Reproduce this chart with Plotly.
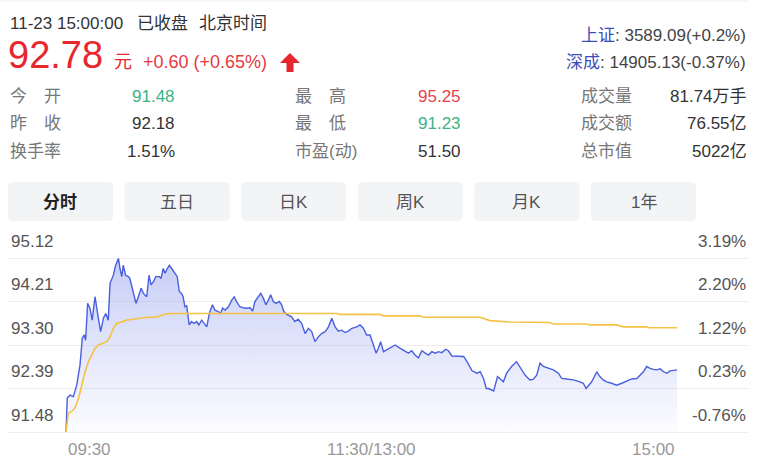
import plotly.graph_objects as go

W, H = 764, 460

# ---------------- data ----------------
price_min = [0, 0.5, 1.6, 2.9, 4.2, 5.5, 6.4, 7.2, 7.7, 8.5, 9.4, 10.3, 11.4, 12.0, 12.7, 13.6, 14.7, 15.6, 16.6,
             17.3, 18.6, 19.5, 20.6, 21.2, 21.9, 22.5, 23.4, 24.5, 25.1, 26.2, 27.5, 28.4, 29.5, 30.4, 31.7, 32.6,
             33.4, 34.3, 35.3, 36.7, 37.3, 38.2, 38.9, 39.8, 40.6, 41.5, 42.8, 43.7, 44.5, 45.4, 46.0, 46.7, 47.4,
             48.4, 49.3, 50.3, 51.3, 52.2, 53.3, 54.2, 55.3, 56.3, 57.5, 58.5, 59.8, 60.7, 61.5, 62.5, 63.8, 65.1,
             66.1, 67.0, 68.3, 69.6, 70.9, 72.3, 73.3, 74.2, 75.5, 76.5, 77.5, 78.5, 79.5, 80.4, 81.4, 82.5, 83.8,
             84.7, 85.6, 86.7, 88.6, 89.9, 91.2, 92.6, 93.9, 95.2, 96.5, 97.8, 99.1, 100.4, 101.8, 103.1, 104.4,
             105.7, 107.0, 108.3, 109.6, 110.9, 112.3, 114.2, 115.5, 116.8, 118.1, 119.4, 120.5, 121.8, 122.7,
             123.6, 124.7, 126.0, 127.3, 129.3, 131.3, 133.2, 134.5, 135.8, 137.1, 138.4, 139.8, 141.1, 142.4,
             143.7, 145.0, 146.3, 147.6, 149.2, 150.2, 151.6, 153.5, 156.2, 157.5, 159.5, 161.4, 162.7, 164.0,
             165.1, 166.0, 168.0, 169.5, 170.5, 171.8, 173.1, 175.0, 177.0, 178.3, 180.3, 182.2, 183.5, 184.9,
             186.2, 187.5, 189.4, 191.4, 193.4, 194.7, 196.6, 199.3, 201.9, 203.2, 204.3, 205.2, 206.5, 208.5,
             209.7, 211.0, 212.4, 214.3, 216.3, 218.3, 219.6, 220.9, 222.2, 224.2, 225.5, 226.8, 228.1, 229.4,
             230.8, 232.1, 233.4, 234.7, 236.0, 237.3, 240.0]
price_val = [91.48, 92.19, 92.25, 92.22, 92.46, 92.88, 93.44, 93.51, 93.40, 94.17, 94.07, 93.82, 94.31, 94.14,
             93.86, 93.58, 93.86, 93.96, 93.82, 94.59, 94.76, 94.97, 95.11, 94.90, 94.73, 94.97, 94.76, 94.73,
             94.69, 94.45, 94.17, 94.31, 94.49, 94.38, 94.31, 94.76, 94.56, 94.62, 94.73, 94.73, 94.69, 94.90,
             94.80, 94.90, 94.97, 94.90, 94.80, 94.73, 94.42, 94.38, 94.31, 94.10, 94.12, 93.72, 93.79, 93.75,
             93.79, 93.72, 93.82, 93.75, 93.68, 93.96, 94.14, 94.03, 94.00, 93.96, 94.07, 94.03, 94.10, 94.24,
             94.31, 94.21, 94.10, 94.08, 94.07, 94.08, 94.01, 94.21, 94.31, 94.38, 94.28, 94.14, 94.24, 94.35,
             94.21, 94.17, 94.21, 94.14, 94.00, 93.94, 93.89, 93.79, 93.84, 93.75, 93.54, 93.65, 93.58, 93.37,
             93.47, 93.54, 93.58, 93.68, 93.86, 93.68, 93.59, 93.61, 93.56, 93.59, 93.65, 93.68, 93.72, 93.65,
             93.51, 93.51, 93.34, 93.13, 93.23, 93.37, 93.16, 93.20, 93.25, 93.30, 93.23, 93.18, 93.13, 93.18,
             93.09, 93.03, 93.18, 93.13, 93.09, 93.16, 93.13, 93.16, 93.14, 93.21, 93.18, 93.07, 93.06, 93.06,
             92.95, 92.76, 92.71, 92.74, 92.60, 92.39, 92.39, 92.34, 92.64, 92.60, 92.53, 92.71, 92.85, 92.95,
             92.85, 92.67, 92.57, 92.58, 92.67, 92.92, 92.85, 92.81, 92.78, 92.71, 92.60, 92.59, 92.57, 92.53,
             92.50, 92.39, 92.45, 92.53, 92.74, 92.64, 92.57, 92.53, 92.50, 92.46, 92.50, 92.53, 92.55, 92.59,
             92.60, 92.67, 92.74, 92.85, 92.81, 92.79, 92.78, 92.80, 92.74, 92.71, 92.76, 92.78]

avg_min = [0, 0.9, 2.2, 3.5, 4.9, 6.2, 7.5, 8.8, 10.1, 11.4, 12.7, 14.7, 16.0, 17.3, 18.6, 19.9, 21.9, 23.8, 26.4,
           30.4, 36.3, 38.2, 40.9, 106.3, 107.6, 123.3, 124.6, 139.0, 140.4, 162.6, 166.5, 174.4, 190.0, 191.4,
           204.5, 205.8, 216.3, 218.9, 228.1, 228.8, 240.0]
avg_val = [91.48, 91.87, 91.91, 91.98, 92.18, 92.46, 92.74, 92.95, 93.09, 93.23, 93.30, 93.34, 93.37, 93.47, 93.65,
           93.75, 93.79, 93.82, 93.84, 93.87, 93.89, 93.94, 93.96, 93.96, 93.94, 93.94, 93.91, 93.91, 93.88, 93.88,
           93.81, 93.78, 93.77, 93.74, 93.74, 93.72, 93.72, 93.68, 93.68, 93.66, 93.66]

y_ticks = [91.48, 92.39, 93.30, 94.21, 95.12]
prev_close = 92.18
x_tick_pos = [0, 120, 240]
x_tick_text = ["09:30", "11:30/13:00", "15:00"]
x_tick_anchor = ["left", "center", "right"]

tabs = ["分时", "五日", "日K", "周K", "月K", "1年"]
stat_labels = [["今　开", "昨　收", "换手率"], ["最　高", "最　低", "市盈(动)"], ["成交量", "成交额", "总市值"]]
stat_values = [["91.48", "92.18", "1.51%"], ["95.25", "91.23", "51.50"], ["81.74万手", "76.55亿", "5022亿"]]
stat_colors = [["#3cb383", "#333333", "#333333"], ["#e8414d", "#3cb383", "#333333"], ["#333333", "#333333", "#333333"]]

# ---------------- layout helpers ----------------
FONT = "Liberation Sans, Arial, Noto Sans CJK SC, sans-serif"


def fx(px):
    return px / W


def fy(py):
    return 1 - py / H


PLOT_L, PLOT_R, PLOT_T, PLOT_B = 7, 748, 232, 440
X0_PX, X1_PX = 66, 677          # pixel of first / last minute
Y_LO_PX, Y_HI_PX = 432, 258     # pixel of lowest / highest tick

kx = (X1_PX - X0_PX) / 240.0
x_range = [-(X0_PX - PLOT_L) / kx, 240 + (PLOT_R - X1_PX) / kx]
ky = (Y_LO_PX - Y_HI_PX) / (y_ticks[-1] - y_ticks[0])
y_range = [y_ticks[0] - (PLOT_B - Y_LO_PX) / ky, y_ticks[-1] + (Y_HI_PX - PLOT_T) / ky]

fig = go.Figure()

# baseline for the area fill
fig.add_trace(go.Scatter(x=[0, 240], y=[y_ticks[0], y_ticks[0]], mode="lines",
                         line=dict(width=0, color="rgba(0,0,0,0)"), hoverinfo="skip", showlegend=False))
fig.add_trace(go.Scatter(x=price_min, y=price_val, mode="lines", fill="tonexty",
                         line=dict(color="#4a5fe0", width=1.4),
                         fillgradient=dict(type="vertical", start=y_ticks[0], stop=y_ticks[-1],
                                           colorscale=[[0, "rgba(90,110,230,0.02)"],
                                                       [1, "rgba(90,110,230,0.34)"]]),
                         hoverinfo="skip", showlegend=False))
fig.add_trace(go.Scatter(x=avg_min, y=avg_val, mode="lines",
                         line=dict(color="#f5c244", width=1.6),
                         hoverinfo="skip", showlegend=False))

ann = []
shapes = []


def text(px, py, s, size=17, color="#333333", anchor="left", yanchor="middle"):
    ann.append(dict(x=fx(px), y=fy(py), xref="paper", yref="paper", text=s, showarrow=False,
                    xanchor=anchor, yanchor=yanchor,
                    font=dict(family=FONT, size=size, color=color)))


# top separator line
shapes.append(dict(type="line", xref="paper", yref="paper", x0=0, x1=fx(748), y0=fy(1), y1=fy(1),
                   line=dict(color="#eeeeee", width=1)))

# header
text(8, 23, "11-23 15:00:00", color="#333333")
text(135, 23, "已收盘", color="#333333")
text(197, 23, "北京时间", color="#333333")
text(6, 55, "92.78", size=38, color="#e8262d")
text(112, 62, "元", size=18, color="#e8262d")
text(141, 62, "+0.60 (+0.65%)", size=18, color="#e63a3f")
# red up arrow
ap = [(280, 63), (290, 53), (300, 63), (293.5, 63), (293.5, 72), (286.5, 72), (286.5, 63)]
path = "M " + " L ".join(f"{fx(a):.5f},{fy(b):.5f}" for a, b in ap) + " Z"
shapes.append(dict(type="path", xref="paper", yref="paper", path=path,
                   fillcolor="#e8262d", line=dict(width=0)))

text(748, 35, "<span style='color:#3d4db7'>上证</span>: 3589.09(+0.2%)", color="#444444", anchor="right")
text(748, 62, "<span style='color:#3d4db7'>深成</span>: 14905.13(-0.37%)", color="#444444", anchor="right")

# stats table
label_x = [8, 293, 579]
value_x = [177, 463, 749]
row_y = [96, 123, 151]
for c in range(3):
    for r in range(3):
        text(label_x[c], row_y[r], stat_labels[c][r], color="#777777")
        text(value_x[c], row_y[r], stat_values[c][r], color=stat_colors[c][r], anchor="right")


# tabs
def rrect(x0, y0, x1, y1, r):
    pts = (f"M {fx(x0 + r)},{fy(y0)} L {fx(x1 - r)},{fy(y0)} Q {fx(x1)},{fy(y0)} {fx(x1)},{fy(y0 + r)} "
           f"L {fx(x1)},{fy(y1 - r)} Q {fx(x1)},{fy(y1)} {fx(x1 - r)},{fy(y1)} "
           f"L {fx(x0 + r)},{fy(y1)} Q {fx(x0)},{fy(y1)} {fx(x0)},{fy(y1 - r)} "
           f"L {fx(x0)},{fy(y0 + r)} Q {fx(x0)},{fy(y0)} {fx(x0 + r)},{fy(y0)} Z")
    return pts


for i, t in enumerate(tabs):
    x0 = 8 + i * 116.6
    shapes.append(dict(type="path", xref="paper", yref="paper", path=rrect(x0, 182, x0 + 105, 221, 5),
                       fillcolor="#f3f4f6", line=dict(width=0), layer="below"))
    text(x0 + 52.5, 202, f"<b>{t}</b>" if i == 0 else t, color="#222222" if i == 0 else "#555555",
         anchor="center")

# y tick labels (price left, percent right), drawn just above the grid lines
for v in y_ticks:
    ann.append(dict(x=fx(9), y=v, xref="paper", yref="y", text=f"{v:.2f}", showarrow=False,
                    xanchor="left", yanchor="middle", yshift=17,
                    font=dict(family=FONT, size=17, color="#555555")))
    pct = (v / prev_close - 1) * 100
    ann.append(dict(x=fx(748), y=v, xref="paper", yref="y", text=f"{pct:.2f}%", showarrow=False,
                    xanchor="right", yanchor="middle", yshift=17,
                    font=dict(family=FONT, size=17, color="#555555")))

# x tick labels
for p, t, a in zip(x_tick_pos, x_tick_text, x_tick_anchor):
    ann.append(dict(x=p, y=fy(449), xref="x", yref="paper", text=t, showarrow=False,
                    xanchor=a, yanchor="middle",
                    font=dict(family=FONT, size=17, color="#999999")))

fig.update_layout(
    width=W, height=H, autosize=False,
    margin=dict(l=0, r=0, t=0, b=0, pad=0),
    paper_bgcolor="white", plot_bgcolor="white",
    font=dict(family=FONT),
    showlegend=False,
    hovermode=False,
    xaxis=dict(domain=[fx(PLOT_L), fx(PLOT_R)], range=x_range, showgrid=False, zeroline=False,
               showticklabels=False, ticks="", showline=False, fixedrange=True),
    yaxis=dict(domain=[fy(PLOT_B), fy(PLOT_T)], range=y_range, tickvals=y_ticks, showticklabels=False,
               showgrid=True, gridcolor="#eeeeee", gridwidth=1, zeroline=False, ticks="",
               showline=False, fixedrange=True),
    annotations=ann,
    shapes=shapes,
)

fig.write_html("out.html", config={"displayModeBar": False, "staticPlot": True},
               post_script="document.body.style.margin='0';")
